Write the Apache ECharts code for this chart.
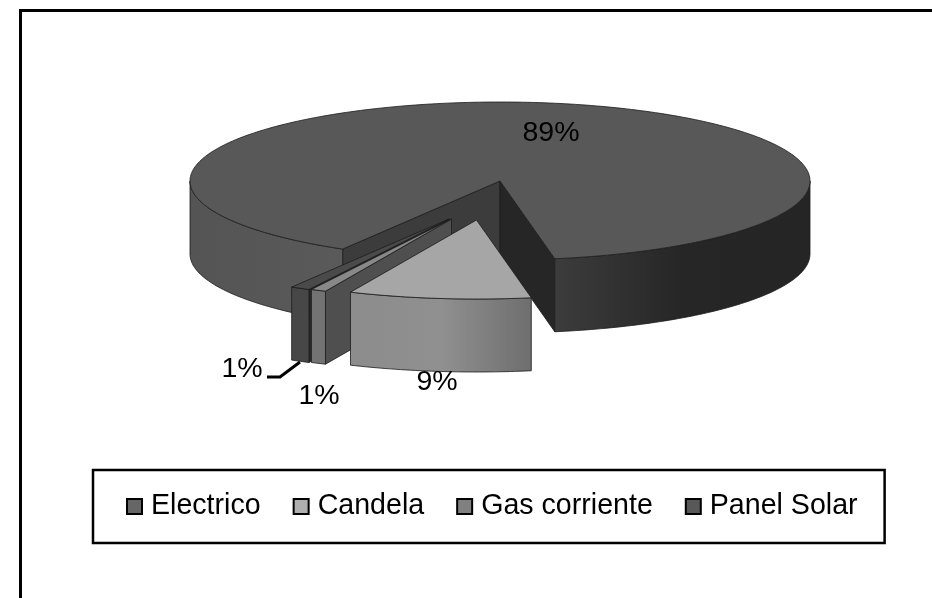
<!DOCTYPE html>
<html>
<head>
<meta charset="utf-8">
<style>
  html, body { margin: 0; padding: 0; background: #fff; }
  #chart { width: 932px; height: 598px; }
</style>
<script src="https://cdn.jsdelivr.net/npm/echarts@6/dist/echarts.min.js"></script>
</head>
<body>
<div id="chart"></div>
<script>
// values, labels round to 89 / 9 / 1 / 1
const categories = ["Electrico", "Candela", "Gas corriente", "Panel Solar"];
const sliceValues = [88.7, 9.49, 0.8, 1.01];

const legendColors = ["#666666", "#b0b0b0", "#808080", "#585858"];
const topColors = ["#585858", "#a6a6a6", "#888888", "#4a4a4a"];
const startWall = ["#3c3c3c", "#5a5a5a", "#4f4f4f", "#2a2a2a"];
const endWall = ["#262626", "#5a5a5a", "#4f4f4f", "#2a2a2a"];
const apexX = [500, 476.5, 451.5, 449];
const apexY = [181, 220, 219, 219];
const labelX = [551, 437, 319, 242];
const labelY = [133, 382, 396, 369];
const drawOrder = [1, 4, 3, 2];

const firstAngle = 120.5; // screen degrees, clockwise from east
const rx = 310;
const ry = 79;
const depth = 73;

const total = sliceValues.reduce((a, b) => a + b, 0);
const sliceAngles = [];
let running = firstAngle;
sliceValues.forEach((v) => {
  const next = running + (v / total) * 360;
  sliceAngles.push([running, next]);
  running = next;
});

function pointOn(i, deg, drop) {
  const r = (deg * Math.PI) / 180;
  return [apexX[i] + rx * Math.cos(r), apexY[i] + ry * Math.sin(r) + (drop || 0)];
}

function arcPoints(i, from, to, drop) {
  const pts = [];
  const steps = Math.max(2, Math.ceil(Math.abs(to - from)));
  for (let s = 0; s <= steps; s++) {
    pts.push(pointOn(i, from + ((to - from) * s) / steps, drop));
  }
  return pts;
}

function poly(points, fill, z2) {
  return {
    type: "polygon",
    z2: z2,
    shape: { points: points },
    style: { fill: fill, stroke: "#1c1c1c", lineWidth: 0.8 },
  };
}

function gradient(stops) {
  return new echarts.graphic.LinearGradient(
    0, 0, 1, 0,
    stops.map((c, k) => ({ offset: k / (stops.length - 1), color: c }))
  );
}

// outer wall pieces that face the viewer (sin > 0)
function frontRanges(from, to) {
  const out = [];
  for (let k = 0; k < 2; k++) {
    const lo = Math.max(from, k * 360);
    const hi = Math.min(to, 180 + k * 360);
    if (hi > lo) out.push([lo, hi]);
  }
  return out;
}

// wall gradients run left to right on screen; the big slice has two wall pieces
const wallLeftStops = [
  ["#545454", "#5a5a5a"],
  ["#8c8c8c", "#909090", "#6e6e6e"],
  ["#737373", "#737373"],
  ["#474747", "#474747"],
];
const wallRightStops = ["#3c3c3c", "#262626", "#252525"];

function renderSlice(i) {
  return function () {
    const [from, to] = sliceAngles[i];
    const base = drawOrder[i] * 10;
    const c = [apexX[i], apexY[i]];
    const kids = [];

    // cut faces go straight down from the apex, only those facing the viewer
    const cuts = [];
    if (Math.cos((from * Math.PI) / 180) < 0) cuts.push([from, startWall[i]]);
    if (Math.cos((to * Math.PI) / 180) > 0) cuts.push([to, endWall[i]]);
    cuts.forEach(([deg, fill]) => {
      const p = pointOn(i, deg);
      kids.push(poly([c, p, [p[0], p[1] + depth], [c[0], c[1] + depth]], fill, base));
    });

    frontRanges(from, to).forEach(([lo, hi]) => {
      const top = arcPoints(i, lo, hi, 0);
      const bottom = arcPoints(i, hi, lo, depth);
      const stops = i === 0 && lo >= 360 ? wallRightStops : wallLeftStops[i];
      kids.push(poly(top.concat(bottom), gradient(stops), base + 1));
    });

    kids.push(poly([c].concat(arcPoints(i, from, to, 0)), topColors[i], base + 2));

    kids.push({
      type: "text",
      z2: 100,
      style: {
        x: labelX[i],
        y: labelY[i],
        text: Math.round((sliceValues[i] / total) * 100) + "%",
        font: '28.5px "Liberation Sans", Arial, sans-serif',
        fill: "#000",
        align: "center",
        verticalAlign: "middle",
      },
    });

    return { type: "group", children: kids };
  };
}

const chart = echarts.init(document.getElementById("chart"));

chart.setOption({
  animation: false,
  backgroundColor: "#ffffff",
  legend: {
    data: categories,
    left: 93,
    top: 470,
    orient: "horizontal",
    icon: "rect",
    itemWidth: 15,
    itemHeight: 15,
    itemGap: 32,
    padding: [22, 27, 22, 33],
    borderColor: "#000",
    borderWidth: 2.5,
    selectedMode: false,
    itemStyle: { borderColor: "#000", borderWidth: 2 },
    textStyle: {
      color: "#000",
      fontFamily: '"Liberation Sans", Arial, sans-serif',
      fontSize: 28.6,
      padding: [0, 0, 0, 4],
    },
  },
  graphic: [
    {
      // only the top and left rules of the frame are in the picture
      type: "polyline",
      silent: true,
      z: -1,
      shape: { points: [[20.5, 610], [20.5, 10.5], [940, 10.5]] },
      style: { fill: "none", stroke: "#000", lineWidth: 3 },
    },
    {
      type: "polyline",
      silent: true,
      z: 20,
      shape: { points: [[267, 377], [280, 377], [300, 362]] },
      style: { fill: "none", stroke: "#000", lineWidth: 3 },
    },
  ],
  series: categories.map((name, i) => ({
    type: "custom",
    name: name,
    coordinateSystem: "none",
    silent: true,
    z: 2 + drawOrder[i],
    itemStyle: { color: legendColors[i] },
    data: [sliceValues[i]],
    renderItem: renderSlice(i),
  })),
});
</script>
</body>
</html>
